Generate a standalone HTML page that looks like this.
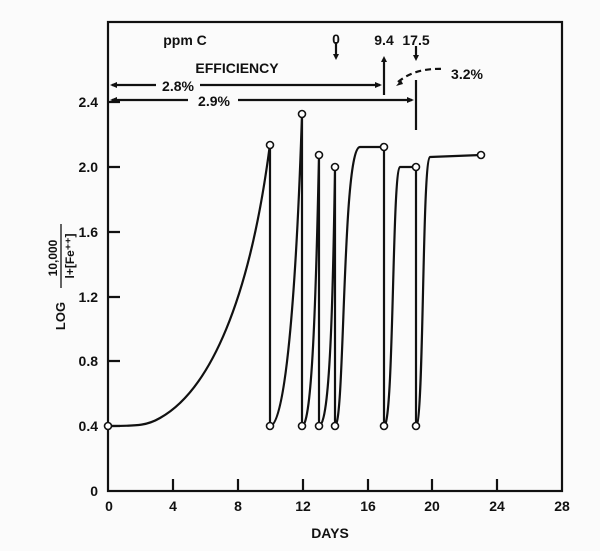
<!DOCTYPE html>
<html><head><style>body{margin:0;background:#fff}svg{display:block}</style></head><body>
<svg width="600" height="551" viewBox="0 0 600 551" xmlns="http://www.w3.org/2000/svg" font-family="Liberation Sans, sans-serif" font-weight="bold" fill="#111">
<rect width="600" height="551" fill="#fbfbfb"/>
<g stroke="#111" stroke-width="2.2" fill="none">
<rect x="108" y="22" width="454" height="469"/>
<path d="M173 491v-12M238 491v-12M303 491v-12M368 491v-12M432 491v-12M497 491v-12"/>
<path d="M108 426h12M108 361h12M108 297h12M108 232h12M108 167h12M108 102h12"/>
<path d="M108 426 C140 426 148 425 160 418 C210 390 250 300 270 144 L270 426 C285 426 296 300 302 114 L302 426 C312 426 316 300 319 154 L319 426 C330 426 333 300 335 167 L335 426 C345 426 342 147 360 147 L384 147 L384 426 C394 426 392 170 400 167 L416 167 L416 426 C424 426 422 160 430 157 L481 155"/>
<path d="M336 42v14M384 75v-16M416 46v12M384 60v35M416 80v50M112 85h268M112 100h300"/>
<path d="M398 82 C410 72 425 68 445 69" stroke-dasharray="6 4"/>
</g>
<g fill="#111">
<path d="M336 60l-3-6h6zM384 56l-3 6h6zM416 61l-3-6h6zM110 85l7-3v6zM382 85l-7-3v6zM110 100l7-3v6zM414 100l-7-3v6zM396 86l5-6 2 4z"/>
</g>
<g fill="#fff" stroke="#111" stroke-width="1.6">
<circle cx="108" cy="426" r="3.5"/><circle cx="270" cy="145" r="3.5"/><circle cx="270" cy="426" r="3.5"/>
<circle cx="302" cy="114" r="3.5"/><circle cx="302" cy="426" r="3.5"/><circle cx="319" cy="155" r="3.5"/>
<circle cx="319" cy="426" r="3.5"/><circle cx="335" cy="167" r="3.5"/><circle cx="335" cy="426" r="3.5"/>
<circle cx="384" cy="147" r="3.5"/><circle cx="384" cy="426" r="3.5"/><circle cx="416" cy="167" r="3.5"/>
<circle cx="416" cy="426" r="3.5"/><circle cx="481" cy="155" r="3.5"/>
</g>
<rect x="156" y="77" width="44" height="16" fill="#fbfbfb"/>
<rect x="188" y="92" width="50" height="16" fill="#fbfbfb"/>
<g font-size="14">
<text x="178" y="91" text-anchor="middle">2.8%</text>
<text x="214" y="106" text-anchor="middle">2.9%</text>
<text x="237" y="73" text-anchor="middle">EFFICIENCY</text>
<text x="185" y="45" text-anchor="middle">ppm  C</text>
<text x="336" y="44" text-anchor="middle">0</text>
<text x="384" y="45" text-anchor="middle">9.4</text>
<text x="416" y="45" text-anchor="middle">17.5</text>
<text x="467" y="79" text-anchor="middle">3.2%</text>
<g text-anchor="end"><text x="98" y="496">0</text><text x="98" y="431">0.4</text><text x="98" y="366">0.8</text><text x="98" y="302">1.2</text><text x="98" y="237">1.6</text><text x="98" y="172">2.0</text><text x="98" y="107">2.4</text></g>
<g text-anchor="middle"><text x="109" y="511">0</text><text x="173" y="511">4</text><text x="238" y="511">8</text><text x="303" y="511">12</text><text x="368" y="511">16</text><text x="432" y="511">20</text><text x="497" y="511">24</text><text x="562" y="511">28</text>
<text x="330" y="538">DAYS</text></g>
<g transform="translate(60,270) rotate(-90)" text-anchor="middle">
<text x="-46" y="5" font-size="13">LOG</text>
<text x="12" y="-3" font-size="12">10,000</text>
<line x1="-18" y1="1" x2="46" y2="1" stroke="#111" stroke-width="1.3"/>
<text x="14" y="14" font-size="12">l+[Fe⁺⁺]</text>
</g>
</g>
</svg>
</body></html>
